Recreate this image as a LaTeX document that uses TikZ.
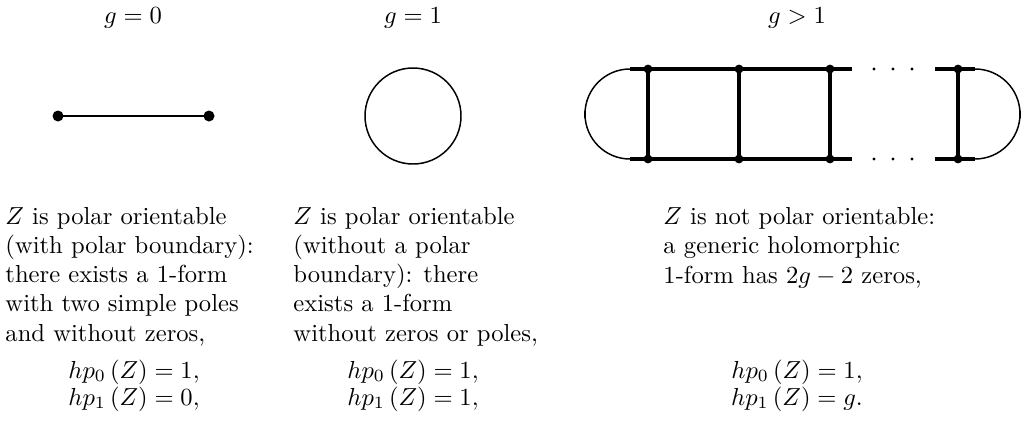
\documentclass[tikz,border=0pt]{standalone}
\begin{document}
\begin{tikzpicture}[x=0.4065pt,y=-0.4065pt,
  thinln/.style={line width=0.6pt},
  thickln/.style={line width=1.35pt},
  bigdot/.style={fill=black},
  para/.style={anchor=base west,inner sep=0pt,align=left,font=\fontsize{10pt}{11.8pt}\selectfont},
  eqn/.style={anchor=base,inner sep=0pt},
  ttl/.style={anchor=base,inner sep=0pt}]
\useasboundingbox (0,0) rectangle (1027,428);
% titles
\node[ttl] (t1) at (133,23) {$g=0$};
\node[ttl] (t2) at (413,23) {$g=1$};
\node[ttl] (t3) at (797,23) {$g>1$};
% g = 0 : segment
\coordinate (sa) at (58,116);
\coordinate (sb) at (209,116);
\draw[line width=1.15pt] (sa) -- (sb);
\fill[bigdot] (sa) circle[radius=5.5];
\fill[bigdot] (sb) circle[radius=5.5];
% g = 1 : circle
\coordinate (cc) at (413,116);
\draw[thinln] (cc) circle[radius=48];
% g > 1 : ladder
\coordinate (lt) at (630,69);
\coordinate (lb) at (630,159);
\coordinate (r1t) at (648,69);  \coordinate (r1b) at (648,159);
\coordinate (r2t) at (739,69);  \coordinate (r2b) at (739,159);
\coordinate (r3t) at (830,69);  \coordinate (r3b) at (830,159);
\coordinate (et) at (852,69);   \coordinate (eb) at (852,159);
\coordinate (st) at (935,69);   \coordinate (sbb) at (935,159);
\coordinate (r4t) at (958,69);  \coordinate (r4b) at (958,159);
\coordinate (rt) at (975,69);   \coordinate (rb) at (975,159);
\draw[thinln] (lt) arc[start angle=270,end angle=90,radius=45];
\draw[thinln] (rt) arc[start angle=270,end angle=450,radius=45];
\coordinate (la1) at (585,111); \coordinate (la2) at (585,118);
\coordinate (ra1) at (1020,111); \coordinate (ra2) at (1020,118);
\draw[line width=1pt] (la1) -- (la2);
\draw[line width=1pt] (ra1) -- (ra2);
\draw[thickln] (lt) -- (et);
\draw[thickln] (lb) -- (eb);
\draw[thickln] (st) -- (rt);
\draw[thickln] (sbb) -- (rb);
\foreach \r in {r1,r2,r3,r4}{
  \draw[thickln] (\r t) -- (\r b);
  \fill[bigdot] (\r t) circle[radius=4.4];
  \fill[bigdot] (\r b) circle[radius=4.4];
}
\foreach \x/\n in {874/a,893/b,912/c}{
  \coordinate (dt\n) at (\x,69);
  \coordinate (db\n) at (\x,159);
  \fill (dt\n) circle[radius=1.6];
  \fill (db\n) circle[radius=1.6];
}
% texts (anchor = baseline of the last line)
\node[para] (p1) at (5,341) {$Z$ is polar orientable\\(with polar boundary):\\there exists a 1-form\\with two simple poles\\and without zeros,};
\node[para] (p2) at (293,341) {$Z$ is polar orientable\\(without a polar\\boundary): there\\exists a 1-form\\without zeros or poles,};
\node[para] (p3) at (663,283) {$Z$ is not polar orientable:\\a generic holomorphic\\1-form has $2g-2$ zeros,};
% equations
\node[eqn] (e1a) at (134,378) {$hp_0\,(Z)=1,$};
\node[eqn] (e1b) at (134,405) {$hp_1\,(Z)=0,$};
\node[eqn] (e2a) at (413,378) {$hp_0\,(Z)=1,$};
\node[eqn] (e2b) at (413,405) {$hp_1\,(Z)=1,$};
\node[eqn] (e3a) at (797,378) {$hp_0\,(Z)=1,$};
\node[eqn] (e3b) at (797,405) {$hp_1\,(Z)=g.$};
\end{tikzpicture}
\end{document}
